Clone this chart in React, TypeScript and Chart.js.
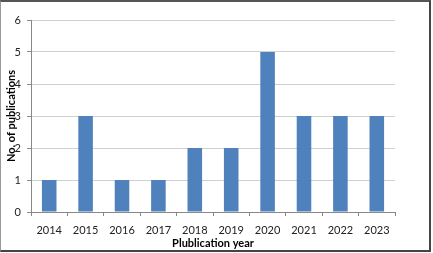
import React, { useEffect, useRef } from "react";
import { Chart, registerables } from "chart.js";

Chart.register(...registerables);

const years = ["2014", "2015", "2016", "2017", "2018", "2019", "2020", "2021", "2022", "2023"];
const publications = [1, 3, 1, 1, 2, 2, 5, 3, 3, 3];
const xTitle = "Plublication year";
const yTitle = "No. of publications";

export default function App() {
  const ref = useRef<HTMLCanvasElement | null>(null);

  useEffect(() => {
    if (!ref.current) return;
    const font = "Lato, 'Liberation Sans', sans-serif";
    const chart = new Chart(ref.current, {
      type: "bar",
      data: {
        labels: years,
        datasets: [
          {
            data: publications,
            backgroundColor: "#4F81BD",
            borderColor: "#4A7EBB",
            borderWidth: 0,
            categoryPercentage: 1,
            barPercentage: 0.4,
          },
        ],
      },
      options: {
        animation: false,
        responsive: false,
        maintainAspectRatio: false,
        layout: { padding: { top: 20, right: 38, bottom: 0, left: 0 } },
        plugins: { legend: { display: false }, tooltip: { enabled: false } },
        scales: {
          x: {
            afterFit: (s: any) => {
              s.height = 41;
            },
            grid: {
              drawOnChartArea: false,
              drawTicks: true,
              tickLength: 4,
              color: "#888888",
              offset: true,
            },
            border: { color: "#888888", width: 1 },
            ticks: {
              color: "#222222",
              padding: 8,
              font: { family: font, size: 11 },
              maxRotation: 0,
            },
            title: {
              display: true,
              text: xTitle,
              color: "#000000",
              font: { family: font, size: 11, weight: "bold" },
              padding: { top: 0, bottom: 3 },
            },
          },
          y: {
            min: 0,
            max: 6,
            afterFit: (s: any) => {
              s.width = 31;
            },
            grid: {
              color: "#D0D0D0",
              tickColor: "#888888",
              tickLength: 4,
              drawTicks: true,
            },
            border: { color: "#888888", width: 1 },
            ticks: {
              stepSize: 1,
              color: "#222222",
              padding: 6,
              font: { family: font, size: 11 },
            },
            title: {
              display: true,
              text: yTitle,
              color: "#000000",
              font: { family: font, size: 11, weight: "bold" },
              padding: { top: 5, bottom: 0 },
            },
          },
        },
      },
    });
    return () => chart.destroy();
  }, []);

  return (
    <div style={{ position: "fixed", left: 0, top: 0, width: 433, height: 253, background: "#fff" }}>
      <canvas ref={ref} width={433} height={253} style={{ position: "absolute", left: 0, top: 0 }} />
      <div
        style={{
          position: "absolute",
          left: 0,
          top: 0,
          width: 431,
          height: 252,
          boxSizing: "border-box",
          borderTop: "2px solid #555",
          borderRight: "2px solid #444",
          borderBottom: "2px solid #444",
          borderLeft: "1px solid #999",
          pointerEvents: "none",
        }}
      />
    </div>
  );
}
